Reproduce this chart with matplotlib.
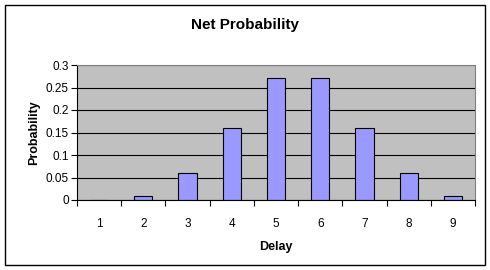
import matplotlib
matplotlib.use("Agg")
import matplotlib.pyplot as plt
from matplotlib.patches import Rectangle
import numpy as np

delays = ["1", "2", "3", "4", "5", "6", "7", "8", "9"]
probability = [0.0, 0.01, 0.06, 0.16, 0.27, 0.27, 0.16, 0.06, 0.01]
y_ticks = [0, 0.05, 0.1, 0.15, 0.2, 0.25, 0.3]
y_tick_labels = ["0", "0.05", "0.1", "0.15", "0.2", "0.25", "0.3"]

plt.rcParams["font.family"] = ["Liberation Sans", "DejaVu Sans"]

fig = plt.figure(figsize=(4.9, 2.7), dpi=100)
# outer chart border like the Excel chart area
fig.patches.append(Rectangle((5 / 490, 5 / 270), 480 / 490, 260 / 270,
                             transform=fig.transFigure, fill=False,
                             edgecolor="black", linewidth=1))

ax = fig.add_axes([77 / 490, 70 / 270, 398 / 490, 135 / 270])
ax.set_facecolor("#C0C0C0")

x = np.arange(len(delays))
ax.set_axisbelow(True)
ax.yaxis.grid(True, color="black", linewidth=0.8)
ax.bar(x, probability, width=0.41, color="#9999FF", edgecolor="black", linewidth=0.8)

ax.set_xlim(-0.5, len(delays) - 0.5)
ax.set_ylim(0, 0.3)
ax.set_xticks(x)
ax.set_xticklabels(delays)
ax.set_xticks(np.arange(len(delays) + 1) - 0.5, minor=True)
ax.tick_params(axis="x", which="major", length=0, pad=13, labelsize=8.5)
ax.tick_params(axis="x", which="minor", length=4, direction="out", width=0.8)
ax.set_yticks(y_ticks)
ax.set_yticklabels(y_tick_labels)
ax.tick_params(axis="y", length=4, direction="out", width=0.8, labelsize=8.5, pad=2)

for side in ["top", "right"]:
    ax.spines[side].set_color("#808080")
ax.spines["left"].set_color("black")
ax.spines["bottom"].set_color("black")

ax.set_xlabel("Delay", fontsize=9, fontweight="bold", labelpad=8)
ax.set_ylabel("Probability", fontsize=9, fontweight="bold", labelpad=4)
fig.text(0.5, 1 - 25 / 270, "Net Probability", ha="center", va="center",
         fontsize=11, fontweight="bold")

fig.savefig("out.png", dpi=100)
